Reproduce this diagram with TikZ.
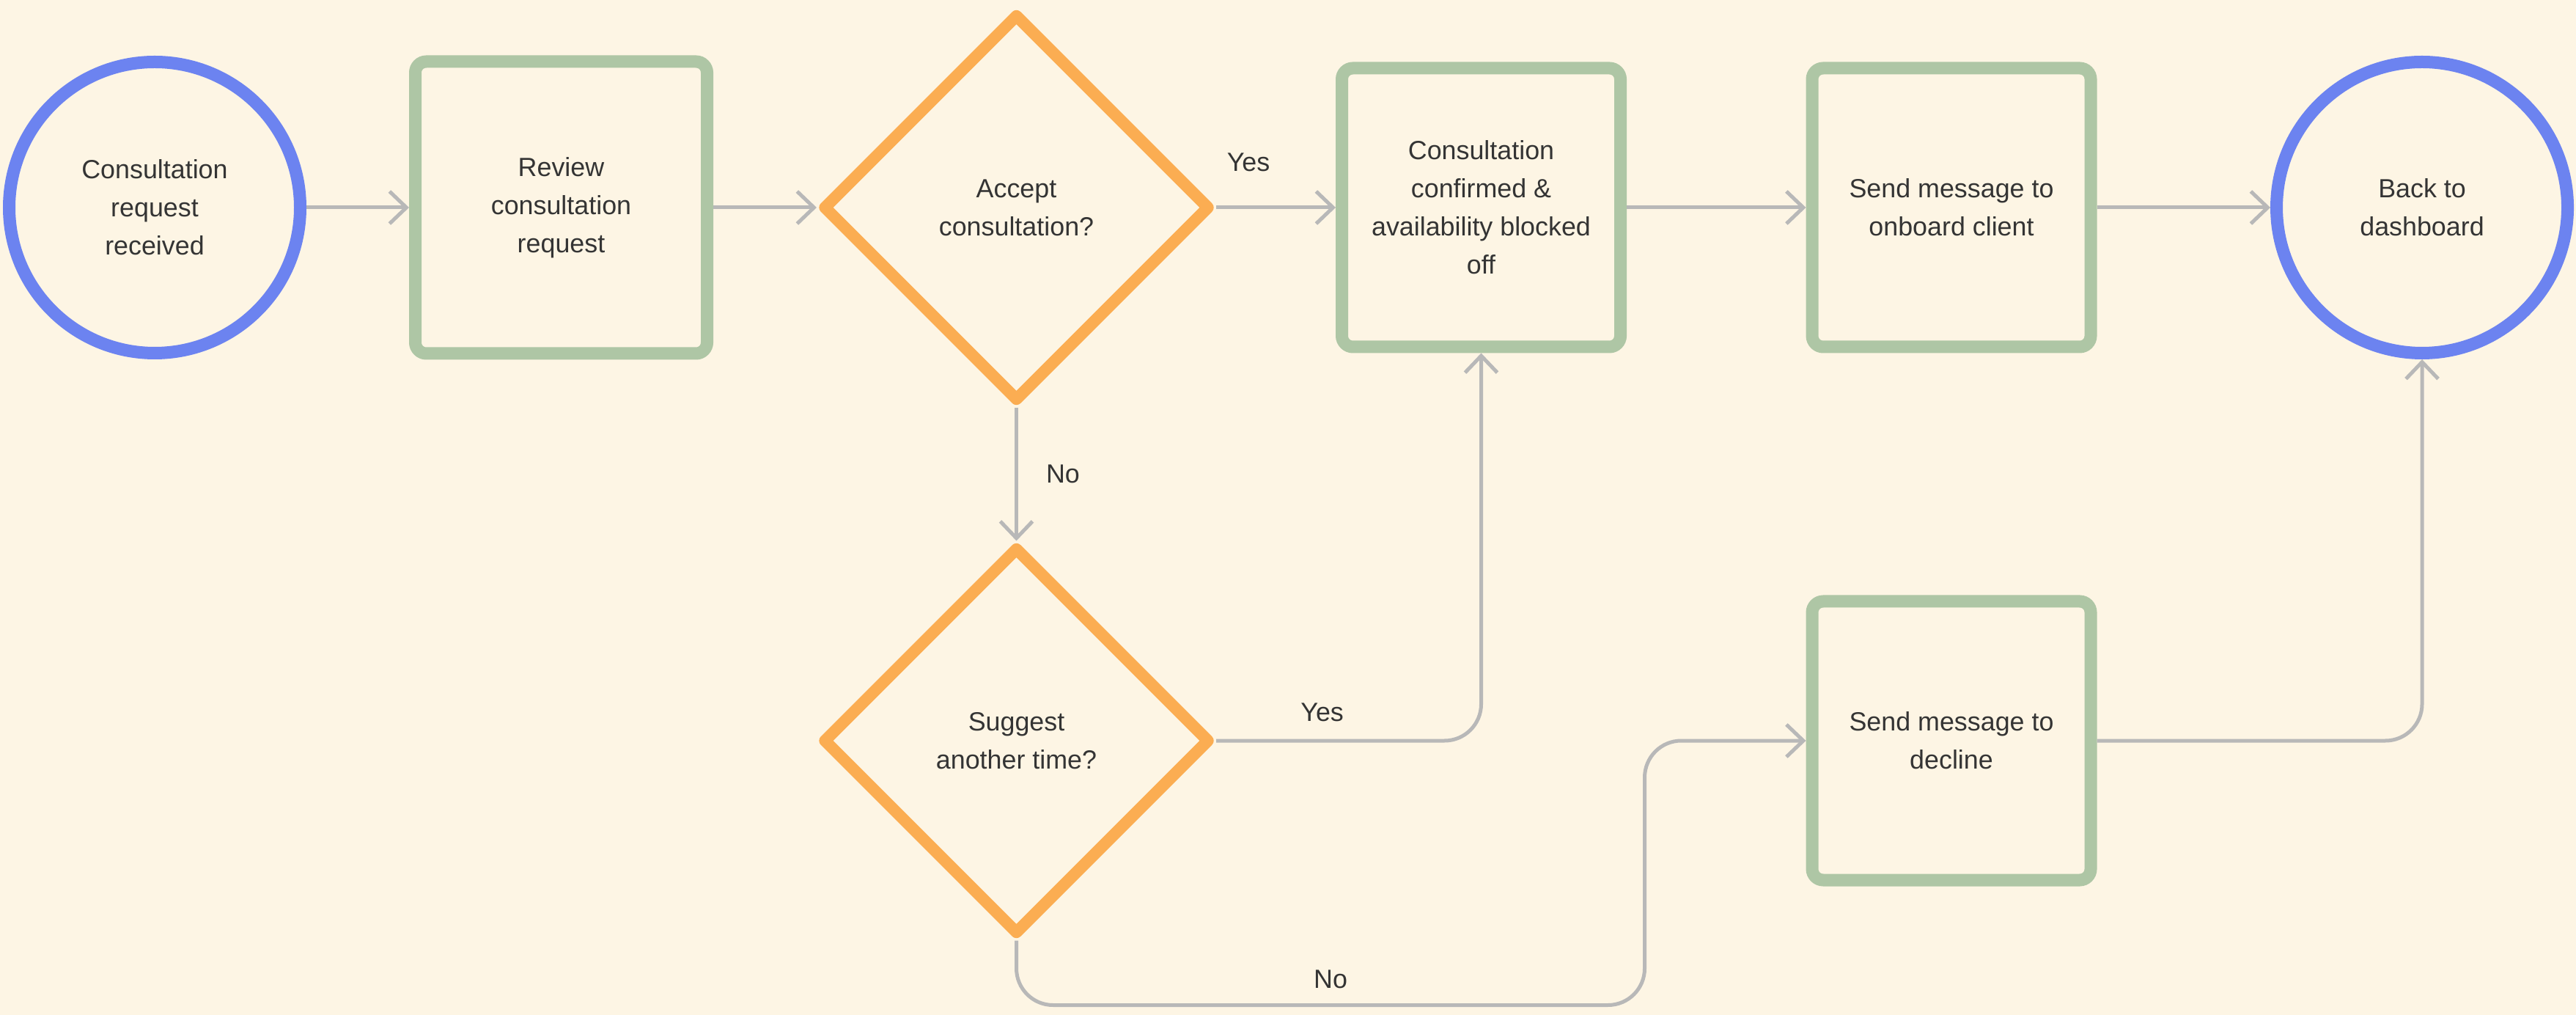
\documentclass[tikz,border=0pt]{standalone}
\usepackage{fontspec}
\setmainfont{Liberation Sans}
\usetikzlibrary{arrows.meta,positioning,shapes.geometric,calc}
\definecolor{paper}{RGB}{253,245,228}
\definecolor{endblue}{RGB}{108,131,240}
\definecolor{taskgreen}{RGB}{174,198,165}
\definecolor{choiceorange}{RGB}{251,173,82}
\definecolor{wire}{RGB}{184,184,184}
\definecolor{ink}{RGB}{52,52,52}
\tikzset{
  node distance=5.5cm,
  every node/.style={font=\fontsize{10.2}{14.8}\selectfont, text=ink, align=center},
  endpt/.style={draw=endblue, circle, line width=0.17cm, minimum size=3.97cm, inner sep=0cm},
  task/.style={draw=taskgreen, rectangle, rounded corners=0.15cm, line width=0.17cm, minimum width=3.8cm, minimum height=3.8cm, inner sep=0cm},
  choice/.style={draw=choiceorange, diamond, aspect=1, line width=0.16cm, line join=round, minimum width=5.29cm, minimum height=5.29cm, inner sep=0cm},
  desc/.style={inner sep=0cm}
}

\begin{document}
\begin{tikzpicture}[tips=proper]
    \tikzset{
      flow/.style={draw=wire, line width=0.05cm, -{Straight Barb[length=0.23cm, width=0.44cm]}, rounded corners=0.5cm},
    }
    \path[use as bounding box, fill=paper] (0,0) rectangle (35.14,-13.84);

    \begin{scope}[on grid]
      \node[endpt] (recv) at (2.11,-2.83) {Consultation\\request\\received};
      \node[task, right=5.545cm of recv, minimum width=3.98cm, minimum height=3.98cm] (review) {Review\\consultation\\request};
      \node[choice, right=6.21cm of review] (accept) {Accept\\consultation?};
      \node[task, right=6.34cm of accept] (confirmed) {Consultation\\confirmed \&\\availability blocked\\off};
      \node[task, right=6.415cm of confirmed] (onboard) {Send message to\\onboard client};
      \node[endpt, right=6.42cm of onboard] (dash) {Back to\\dashboard};

      \node[choice, below=7.27cm of accept] (suggest) {Suggest\\another time?};
      \node[task, below=7.27cm of onboard] (decline) {Send message to\\decline};
    \end{scope}

    \draw[flow] (recv) -- (review);
    \draw[flow] (review) -- (accept);
    \draw[flow] (accept) -- node[desc, above, pos=0.27, yshift=0.47cm] {Yes} (confirmed);
    \draw[flow] (confirmed) -- (onboard);
    \draw[flow] (onboard) -- (dash);

    \draw[flow] (accept) -- node[desc, right, xshift=0.38cm] {No} (suggest);
    \draw[flow] (suggest.east) -| node[desc, above, pos=0.2, yshift=0.24cm] {Yes} (confirmed.south);
    \draw[flow] (suggest.south) -- ++(0,-0.88) -| node[desc, above, pos=0.25, yshift=0.2cm] {No} ([xshift=-2.2cm]decline.west) -- (decline.west);
    \draw[flow] (decline.east) -| (dash.south);
  \end{tikzpicture}
\end{document}
